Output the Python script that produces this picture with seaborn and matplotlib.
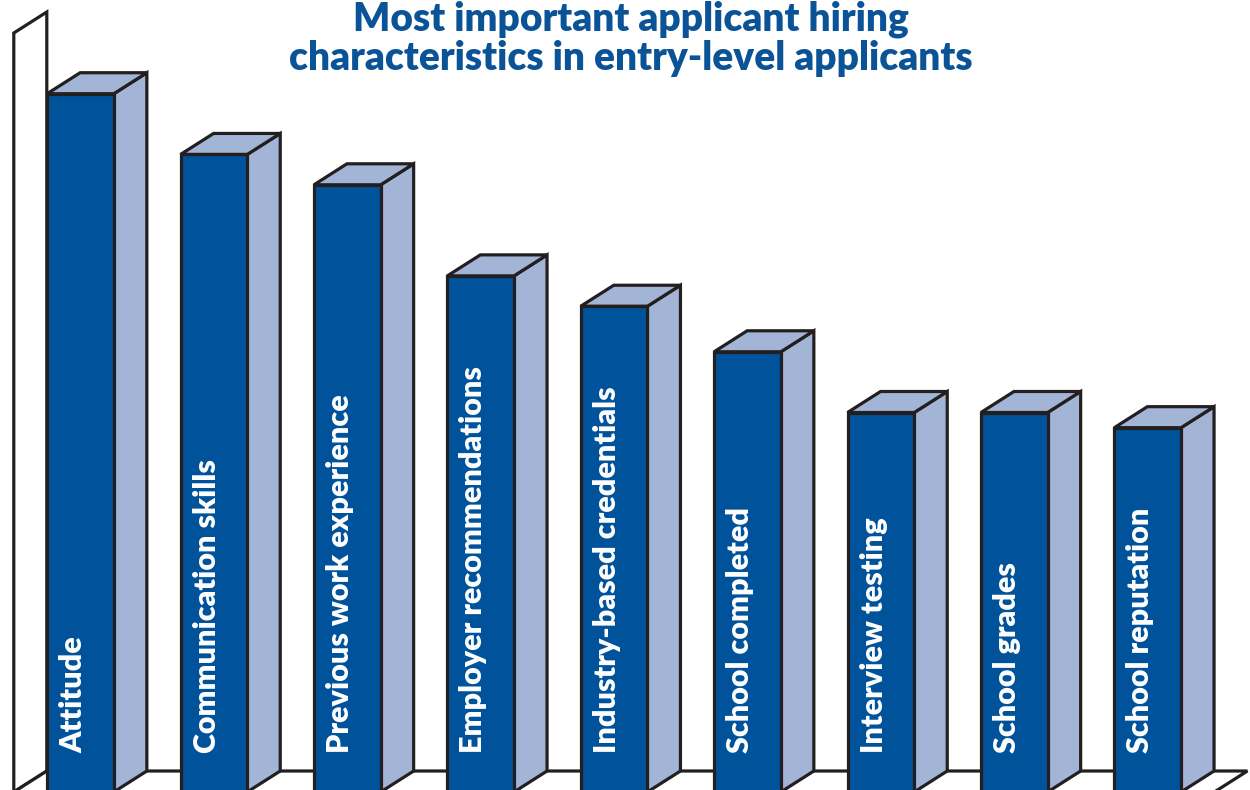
import matplotlib
matplotlib.use("Agg")
import matplotlib.pyplot as plt
from matplotlib.patches import Polygon
import seaborn as sns
import pandas as pd

categories = ["Attitude", "Communication skills", "Previous work experience",
              "Employer recommendations", "Industry-based credentials",
              "School completed", "Interview testing", "School grades",
              "School reputation"]
values = [92, 84, 80, 68, 64, 58, 50, 50, 48]
title = "Most important applicant hiring\ncharacteristics in entry-level applicants"

FRONT = "#00539B"
SIDE = "#A3B5D6"
EDGE = "#231F20"
TITLE_C = "#0A5396"

sns.set_theme(style="white")
plt.rcParams['font.family'] = ['Lato', 'DejaVu Sans']

fig = plt.figure(figsize=(12.5, 7.9), dpi=100)
ax = fig.add_axes([0, 0, 1, 1])

df = pd.DataFrame({"cat": categories, "val": values})
W = 0.5
sns.barplot(data=df, x="cat", y="val", width=W, color=FRONT, saturation=1,
            edgecolor=EDGE, linewidth=2.3, ax=ax, zorder=5)
for p in ax.patches:
    p.set_joinstyle("miter")

# axis scaling to match pixel layout
px_per_x = 133.4
px_per_y = 7.59
x0_px = 80.5
ax.set_xlim(-x0_px / px_per_x, (1250 - x0_px) / px_per_x)
ax.set_ylim(2 / px_per_y, (790 + 2) / px_per_y)
ax.axis("off")

dx = 33 / px_per_x
dy = 21 / px_per_y
lw = 2.3

# back wall and floor
n = len(categories)
wall = Polygon([(-0.5, 0), (-0.5, 100), (-0.5 + dx, 100 + dy), (-0.5 + dx, dy)],
               closed=True, facecolor="white", edgecolor=EDGE, lw=lw, zorder=1,
               joinstyle="miter")
floor = Polygon([(-0.5, 0), (n - 0.5, 0), (n - 0.5 + dx, dy), (-0.5 + dx, dy)],
                closed=True, facecolor="white", edgecolor=EDGE, lw=lw, zorder=2,
                joinstyle="miter")
ax.add_patch(wall)
ax.add_patch(floor)

for i, v in enumerate(values):
    r = i + W / 2
    l = i - W / 2
    side = Polygon([(r, 0), (r, v), (r + dx, v + dy), (r + dx, dy)], closed=True,
                   facecolor=SIDE, edgecolor=EDGE, lw=lw, zorder=3, joinstyle="miter")
    top = Polygon([(l, v), (r, v), (r + dx, v + dy), (l + dx, v + dy)], closed=True,
                  facecolor=SIDE, edgecolor=EDGE, lw=lw, zorder=3, joinstyle="miter")
    ax.add_patch(side)
    ax.add_patch(top)
    ax.text(i - 0.055, 5.1, categories[i], rotation=90, ha="center", va="bottom",
            color="white", fontsize=22, fontweight="heavy", zorder=10)

ax.text(631 / px_per_x - x0_px / px_per_x, (792 - 39) / px_per_y, title,
        ha="center", va="center", color=TITLE_C, fontsize=28, fontweight="heavy",
        linespacing=1.05, zorder=10)

fig.savefig("out.png", dpi=100)
